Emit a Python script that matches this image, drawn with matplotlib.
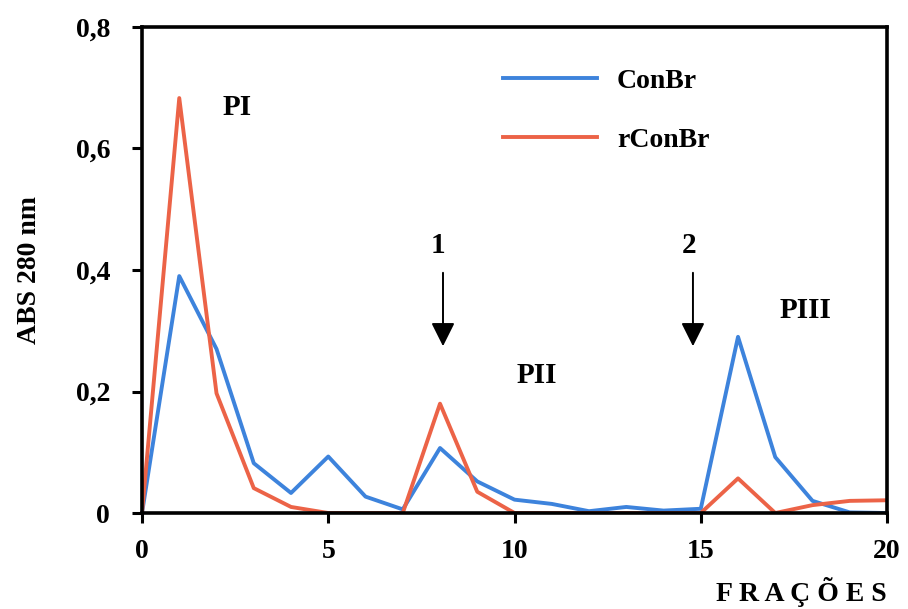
import matplotlib
matplotlib.use("Agg")
import matplotlib.pyplot as plt

plt.rcParams['font.family'] = ['Liberation Serif', 'DejaVu Serif']
plt.rcParams['font.weight'] = 'bold'

fracoes = list(range(21))
conbr = [0, 0.39, 0.27, 0.082, 0.033, 0.093, 0.027, 0.006, 0.107, 0.052,
         0.022, 0.015, 0.003, 0.01, 0.004, 0.007, 0.29, 0.092, 0.02, 0.001, 0.0]
rconbr = [0, 0.683, 0.197, 0.041, 0.01, 0.0, 0.0, 0.0, 0.18, 0.035,
          0.0, 0.0, 0.0, 0.0, 0.0, 0.0, 0.057, 0.0, 0.013, 0.02, 0.021]

xticks = [0, 5, 10, 15, 20]
yticks = [0, 0.2, 0.4, 0.6, 0.8]
ytick_labels = ['0', '0,2', '0,4', '0,6', '0,8']

blue = '#3d83dc'
red = '#ec6347'

fig = plt.figure(figsize=(9.08, 6.09), dpi=100)
ax = fig.add_axes([0.1564, 0.1576, 0.8205, 0.7981])

ax.plot(fracoes, conbr, color=blue, lw=2.8, label='ConBr')
ax.plot(fracoes, rconbr, color=red, lw=2.8, label='rConBr')

ax.set_xlim(0, 20)
ax.set_ylim(0, 0.8)
ax.set_xticks(xticks)
ax.set_yticks(yticks)
ax.set_yticklabels(ytick_labels)
ax.tick_params(direction='out', length=7, width=2.2, labelsize=20, pad=16)
ax.tick_params(axis='x', pad=12)
for s in ax.spines.values():
    s.set_linewidth(2.6)

ax.set_ylabel('ABS 280 nm', fontsize=20, fontweight='bold', labelpad=24)
ax.text(1.0, -0.163, 'F R A Ç Õ E S', transform=ax.transAxes, ha='right', va='center',
        fontsize=20, fontweight='bold')

leg = ax.legend(loc='upper left', bbox_to_anchor=(0.4846, 0.915), frameon=False,
                fontsize=20, handlelength=3.4, labelspacing=1.22, handletextpad=0.7,
                borderpad=0, borderaxespad=0)

ax.text(2.55, 0.668, 'PI', fontsize=21, ha='center', va='center')
ax.text(7.95, 0.441, '1', fontsize=21, ha='center', va='center')
ax.text(10.6, 0.227, 'PII', fontsize=21, ha='center', va='center')
ax.text(14.68, 0.441, '2', fontsize=21, ha='center', va='center')
ax.text(17.8, 0.334, 'PIII', fontsize=21, ha='center', va='center')

for xa in [8.08, 14.79]:
    ax.annotate('', xy=(xa, 0.27), xytext=(xa, 0.40),
                arrowprops=dict(arrowstyle='-|>', color='black', lw=1.4,
                                mutation_scale=36))

fig.savefig('out.png', dpi=100)
